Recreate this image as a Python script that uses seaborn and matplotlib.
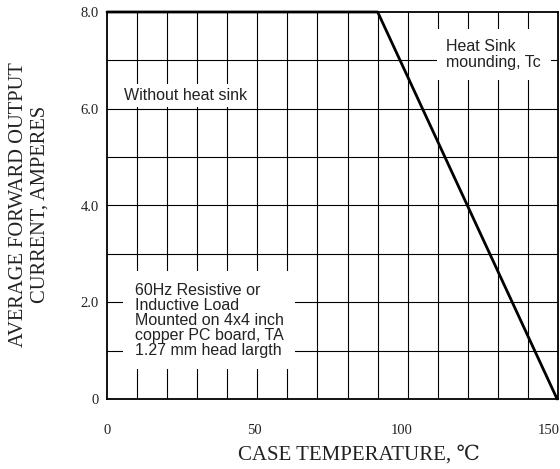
import numpy as np
import pandas as pd
import matplotlib
matplotlib.use("Agg")
import matplotlib.pyplot as plt
import seaborn as sns

# Data
temps = [0, 92, 153]
current = [8.0, 8.0, 0.0]
x_ticks = [0, 50, 100, 150]
x_tick_labels = ["0", "50", "100", "150"]
y_ticks = [0, 2, 4, 6, 8]
y_tick_labels = ["0", "2.0", "4.0", "6.0", "8.0"]
x_label = "CASE TEMPERATURE, \u2103"
y_label = "AVERAGE FORWARD OUTPUT\nCURRENT, AMPERES"
note_without = "Without heat sink"
note_heatsink = "Heat Sink\nmounding, Tc"
note_load = "60Hz Resistive or\nInductive Load\nMounted on 4x4 inch\ncopper PC board, TA\n1.27 mm head largth"

sns.set_style("white")
serif = ["Liberation Serif", "DejaVu Serif", "DejaVu Sans"]
sans = ["Liberation Sans", "DejaVu Sans"]
note_color = "#222222"

fig = plt.figure(figsize=(5.6, 4.69), dpi=100)
ax = fig.add_axes([107/560, 1-399/469, (558-107)/560, (399-12)/469])

xmax = 153.3
ax.set_xlim(0, xmax)
ax.set_ylim(0, 8)

# grid
for gx in np.linspace(0, xmax, 16)[1:-1]:
    ax.axvline(gx, color="black", lw=0.8, zorder=1)
for gy in np.arange(1, 8):
    ax.axhline(gy, color="black", lw=0.8, zorder=1)

df = pd.DataFrame({"T": temps, "I": current})
sns.lineplot(data=df, x="T", y="I", ax=ax, color="black", lw=2.0, zorder=5, clip_on=False)
ax.set_xlabel("")
ax.set_ylabel("")

ax.set_xticks(x_ticks)
ax.set_xticklabels(x_tick_labels, family=serif, fontsize=10.5, color="#222222")
ax.set_yticks(y_ticks)
ax.set_yticklabels(y_tick_labels, family=serif, fontsize=10.5, color="#222222")
ax.tick_params(axis="x", length=0, pad=18)
ax.tick_params(axis="y", length=0, pad=6)

for s in ax.spines.values():
    s.set_color("black")
    s.set_linewidth(1.3)

ax.text(26.6, 6.28, note_without, family=sans, fontsize=11.5, ha="center", va="center",
        color=note_color,
        bbox=dict(facecolor="white", edgecolor="none", boxstyle="square,pad=0.25"), zorder=3)
ax.text(115.3, 7.12, note_heatsink, family=sans, fontsize=11.5, ha="left", va="center",
        color=note_color, linespacing=1.12,
        bbox=dict(facecolor="white", edgecolor="none", boxstyle="square,pad=0.6"), zorder=3)
ax.text(9.4, 1.63, note_load, family=sans, fontsize=11.5, ha="left", va="center",
        color=note_color, linespacing=1.0,
        bbox=dict(facecolor="white", edgecolor="none", boxstyle="square,pad=0.72"), zorder=3)

fig.text(29.5/560, 1-204.5/469, y_label, family=serif, fontsize=14.8, rotation=90,
         ha="center", va="center", linespacing=1.22, color="#222222")
fig.text(359/560, 1-455/469, x_label, family=serif, fontsize=15, ha="center", va="center",
         color="#222222")

fig.savefig("out.png", dpi=100)
